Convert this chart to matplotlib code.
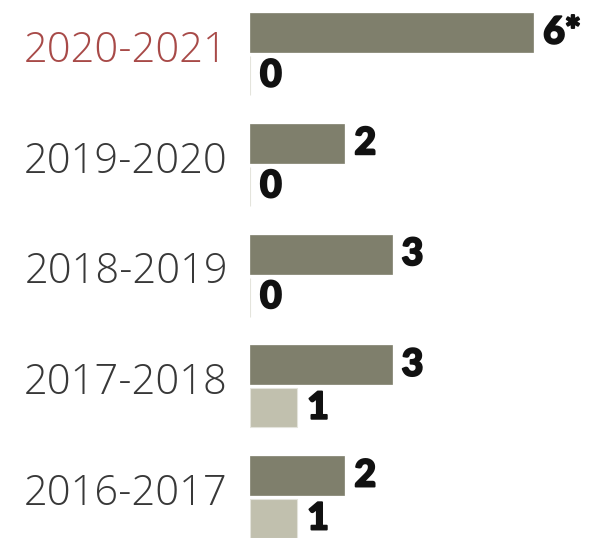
import matplotlib
matplotlib.use("Agg")
import matplotlib.pyplot as plt
import matplotlib.patheffects as pe
import numpy as np

categories = ["2020-2021", "2019-2020", "2018-2019", "2017-2018", "2016-2017"]
series_a = [6, 2, 3, 3, 2]
series_b = [0, 0, 0, 1, 1]
labels_a = ["6*", "2", "3", "3", "2"]
labels_b = ["0", "0", "0", "1", "1"]

W, H = 599, 538
fig = plt.figure(figsize=(W / 100, H / 100), dpi=100)
left_px = 250
unit_px = 47.2
ax = fig.add_axes([left_px / W, 0, (W - left_px) / W, 1])
ax.set_xlim(0, (W - left_px) / unit_px)

spacing_px = 110.75
first_center_px = 54
top = -first_center_px / spacing_px
bottom = top + H / spacing_px
ax.set_ylim(bottom, top)

bar_h = 39 / spacing_px
gap = 4 / spacing_px
off = bar_h / 2 + gap / 2
pos = np.arange(len(categories))

dark = "#7f7f6c"
light = "#c1c0ae"
ax.barh(pos - off, series_a, height=bar_h, color=dark, edgecolor=dark, linewidth=0.5)
ax.barh(pos + off, series_b, height=bar_h, color=light, edgecolor="#e4e4dc", linewidth=0.8)

vfont = dict(family=["Lato", "DejaVu Sans"], weight="black", fontsize=27, color="#111111",
             path_effects=[pe.withStroke(linewidth=1.4, foreground="#111111")])
for i in range(len(categories)):
    ax.annotate(labels_a[i], xy=(series_a[i], pos[i] - off), xytext=(10, 0),
                textcoords="offset pixels", ha="left", va="center", **vfont)
    ax.annotate(labels_b[i], xy=(series_b[i], pos[i] + off), xytext=(10, 0),
                textcoords="offset pixels", ha="left", va="center", **vfont)
    col = "#a84a48" if i == 0 else "#383838"
    ax.annotate(categories[i], xy=(0, pos[i] - 0.03), xytext=(-22, 0),
                textcoords="offset pixels", ha="right", va="center",
                family=["Open Sans", "DejaVu Sans"], weight="light", fontsize=30, color=col,
                annotation_clip=False)

ax.axis("off")
fig.savefig("out.png", dpi=100)
